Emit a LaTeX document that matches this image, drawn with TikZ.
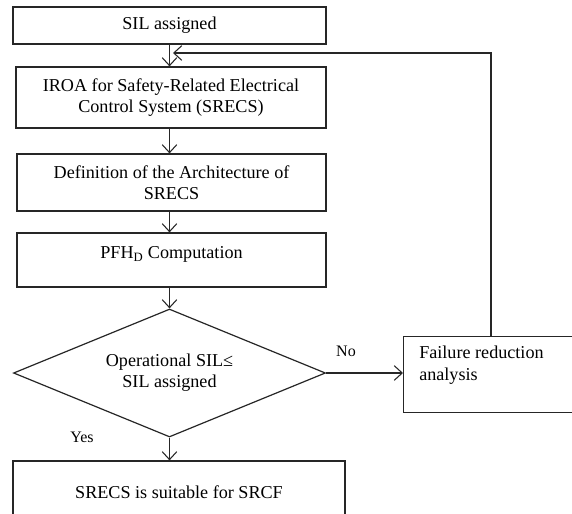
\documentclass[tikz,border=0pt]{standalone}
\usepackage{fontspec}
\setmainfont{Liberation Serif}
\usetikzlibrary{arrows.meta,shapes.geometric}

\begin{document}
\begin{tikzpicture}[x=0.75pt,y=-0.75pt,
  every node/.style={font=\fontsize{13.6pt}{15.75pt}\selectfont},
  stepbox/.style={draw=black!85,line width=0.9pt,rectangle,inner sep=0pt,align=center},
  decision/.style={draw=black!85,line width=0.9pt,diamond,aspect=2.44,inner sep=0pt,align=center},
  flow/.style={draw=black!85,line width=0.8pt,-{Straight Barb[length=6pt,width=11pt]}},
  branch/.style={font=\fontsize{12pt}{14pt}\selectfont,inner sep=0pt}]
\useasboundingbox (0,0) rectangle (572,514);
\fill[white] (0,0) rectangle (572,514);

% main chain of steps
\node[stepbox,minimum width=234.75pt,minimum height=27.75pt] (sil) at (169.5,25.5) {SIL assigned};
\node[stepbox,minimum width=232.5pt,minimum height=45.75pt] (iroa) at (171,97.5)
  {IROA for Safety-Related Electrical\\Control System (SRECS)};
\node[stepbox,minimum width=231.75pt,minimum height=42.75pt] (arch) at (171.5,182.5)
  {Definition of the Architecture of\\SRECS};
\node[stepbox,minimum width=231.75pt,minimum height=40.5pt,text height=10pt,text depth=12.5pt] (pfh) at (171.5,260)
  {PFH\textsubscript{D} Computation};
\node[decision,minimum width=234pt,minimum height=96pt] (d) at (169.5,373)
  {Operational SIL≤\\SIL assigned};
\node[stepbox,minimum width=249pt,minimum height=46.5pt] (ok) at (179,492)
  {SRECS is suitable for SRCF};

% side step for the failing case
\node[stepbox,anchor=north west,minimum width=150pt,minimum height=57pt] (fail) at (403,336) {};
\node[anchor=north west,align=left,inner sep=0pt,font=\fontsize{13.6pt}{16.5pt}\selectfont] (failtext)
  at ([xshift=12pt,yshift=-7.5pt]fail.north west) {Failure reduction\\analysis};

% branch labels
\node[branch] (no) at (346,351) {No};
\node[branch] (yes) at (82,437) {Yes};

% connectors, all on the vertical through the top step
\draw[flow] (sil.south) -- (sil.south |- iroa.north);
\draw[flow] (sil.south |- iroa.south) -- (sil.south |- arch.north);
\draw[flow] (sil.south |- arch.south) -- (sil.south |- pfh.north);
\draw[flow] (sil.south |- pfh.south) -- (d.north);
\draw[flow] (d.south) -- (sil.south |- ok.north);
\draw[flow] (d.east) -- (d.east -| fail.west);
\coordinate (ret) at (173,53);
\draw[flow] ([xshift=66pt]fail.north west) |- (ret);
\end{tikzpicture}
\end{document}
